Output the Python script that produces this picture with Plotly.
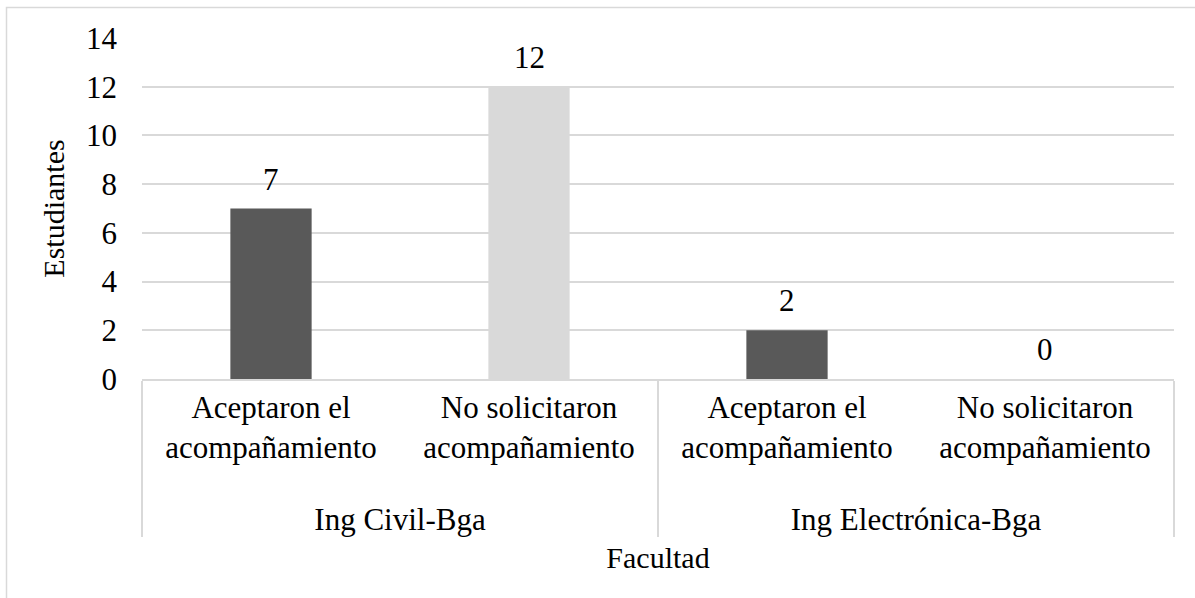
import plotly.graph_objects as go

# Data
groups = ["Ing Civil-Bga", "Ing Civil-Bga", "Ing Electrónica-Bga", "Ing Electrónica-Bga"]
subcats = ["Aceptaron el<br>acompañamiento", "No solicitaron<br>acompañamiento",
           "Aceptaron el<br>acompañamiento", "No solicitaron<br>acompañamiento"]
values = [7, 12, 2, 0]
bar_colors = ["#595959", "#d9d9d9", "#595959", "#d9d9d9"]
y_ticks = [0, 2, 4, 6, 8, 10, 12, 14]

FONT = "Liberation Serif"
W, H = 1195, 598
ML, MR, MT, MB = 142, 21, 38, 219
pw = W - ML - MR
ph = H - MT - MB

# transparent trailing line widens the gap to the group (second-level) labels
sub_labels = [s + "<br><span style='font-size:6px;color:rgba(255,255,255,0)'>.</span>" for s in subcats]

fig = go.Figure()
fig.add_trace(go.Bar(
    x=[groups, sub_labels],
    y=values,
    marker=dict(color=bar_colors, line=dict(width=0)),
    width=0.315,
    hoverinfo="skip",
))

for i, v in enumerate(values):
    fig.add_annotation(
        x=i, y=v, xref="x", yref="y",
        text=str(v), showarrow=False,
        yanchor="bottom", yshift=10,
        font=dict(family=FONT, size=31, color="#000000"),
    )

fig.update_layout(
    width=W, height=H,
    margin=dict(l=ML, r=MR, t=MT, b=MB),
    paper_bgcolor="white",
    plot_bgcolor="white",
    showlegend=False,
    font=dict(family=FONT, size=31, color="#000000"),
    xaxis=dict(
        type="multicategory",
        showline=True, linecolor="#d9d9d9", linewidth=1.5,
        showdividers=True, dividercolor="#d9d9d9", dividerwidth=1.5,
        ticks="",
        ticklabelstandoff=0,
        tickfont=dict(family=FONT, size=31, color="#000000"),
        title=dict(text="Facultad", font=dict(family=FONT, size=30, color="#000000"), standoff=11),
        showgrid=False,
        zeroline=False,
    ),
    yaxis=dict(
        range=[0, 14],
        tickvals=y_ticks,
        showgrid=True, gridcolor="#d9d9d9", gridwidth=1.5,
        zeroline=False,
        showline=False,
        ticks="",
        ticklabelstandoff=24,
        tickfont=dict(family=FONT, size=31, color="#000000"),
        title=dict(text="Estudiantes", font=dict(family=FONT, size=30, color="#000000"), standoff=12),
    ),
    shapes=[dict(
        type="rect", xref="paper", yref="paper",
        x0=(6.5 - ML) / pw, x1=(W + 5 - ML) / pw,
        y0=-(H + 5 - MT - ph) / ph, y1=1 + (MT - 7.5) / ph,
        line=dict(color="#d9d9d9", width=1.5), fillcolor="rgba(0,0,0,0)",
        layer="below",
    )],
)

fig.write_html("out.html", post_script="document.body.style.margin='0';",
               config={"displayModeBar": False})
